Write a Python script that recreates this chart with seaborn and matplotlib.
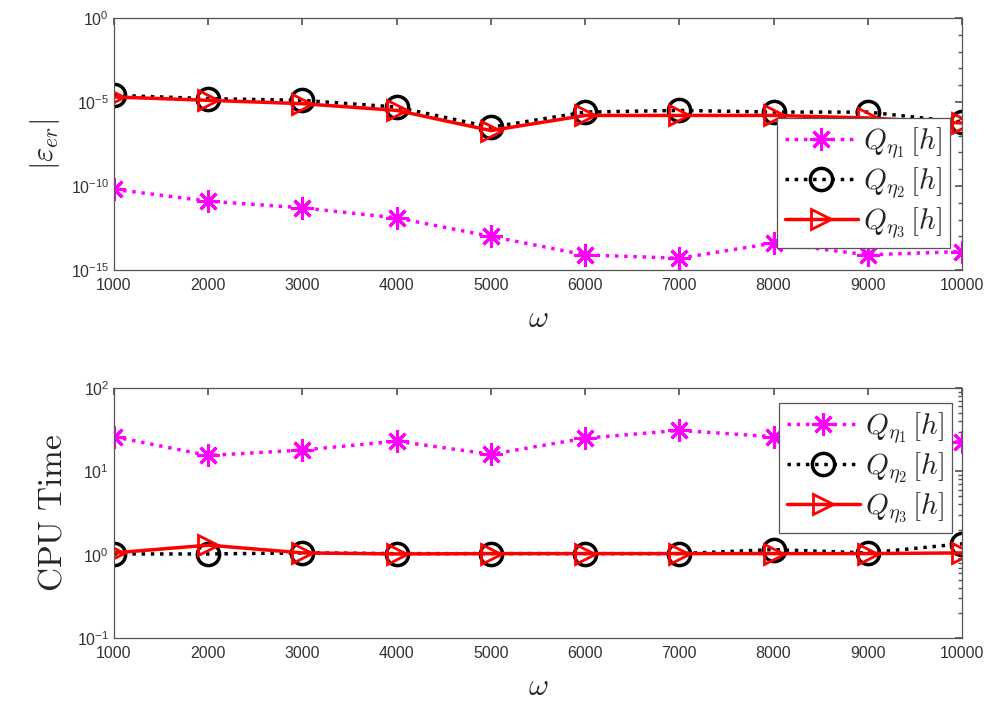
import numpy as np
import pandas as pd
import seaborn as sns
import matplotlib
matplotlib.use("Agg")
import matplotlib.pyplot as plt
from matplotlib.ticker import LogLocator, NullFormatter, FixedLocator

omega = [1000, 2000, 3000, 4000, 5000, 6000, 7000, 8000, 9000, 10000]
series_labels = [r"$Q_{\eta_1}\,[h]$", r"$Q_{\eta_2}\,[h]$", r"$Q_{\eta_3}\,[h]$"]

err_q1 = [10**-10.2, 10**-10.9, 10**-11.3, 10**-11.9, 10**-13.0, 10**-14.1, 10**-14.3, 10**-13.4, 10**-14.1, 10**-13.9]
err_q2 = [10**-4.6, 10**-4.8, 10**-4.9, 10**-5.3, 10**-6.5, 10**-5.6, 10**-5.5, 10**-5.6, 10**-5.6, 10**-6.2]
err_q3 = [10**-4.7, 10**-4.9, 10**-5.1, 10**-5.5, 10**-6.7, 10**-5.8, 10**-5.8, 10**-5.8, 10**-5.95, 10**-6.25]

cpu_q1 = [26, 15.5, 18, 23, 16, 25, 31, 26, 22, 22.5]
cpu_q2 = [1.02, 1.02, 1.05, 1.03, 1.03, 1.03, 1.03, 1.15, 1.05, 1.35]
cpu_q3 = [1.05, 1.3, 1.05, 1.02, 1.03, 1.03, 1.03, 1.03, 1.03, 1.05]

sns.set_theme(style="white")
plt.rcParams['font.family'] = ['Liberation Sans', 'DejaVu Sans']
plt.rcParams['mathtext.fontset'] = 'cm'

styles = [
    dict(color="#FF00FF", linestyle=":", marker=(8, 2, 0), markersize=16, markerfacecolor="#FF00FF",
         markeredgecolor="#FF00FF", markeredgewidth=2.2, linewidth=2.5),
    dict(color="black", linestyle=":", marker="o", markersize=16, markerfacecolor="none",
         markeredgecolor="black", markeredgewidth=2.5, linewidth=2.5),
    dict(color="#FF0000", linestyle="-", marker=">", markersize=15, markerfacecolor="none",
         markeredgecolor="#FF0000", markeredgewidth=2.0, linewidth=2.5),
]

fig = plt.figure(figsize=(9.92, 7.13), dpi=100)
W, H = 992, 713
ax1 = fig.add_axes([114 / W, 1 - 270 / H, (962 - 114) / W, (270 - 18) / H])
ax2 = fig.add_axes([114 / W, 1 - 638 / H, (962 - 114) / W, (638 - 388) / H])

def draw(ax, data_list):
    for vals, lab, st in zip(data_list, series_labels, styles):
        df = pd.DataFrame({"omega": omega, "val": vals})
        sns.lineplot(data=df, x="omega", y="val", ax=ax, label=lab, **st)
    ax.set_yscale("log")
    ax.set_xlim(1000, 10000)
    ax.set_xticks(omega)
    ax.set_xticklabels([str(o) for o in omega])
    ax.tick_params(axis="both", which="both", direction="in", top=True, right=True,
                   labelsize=11.5, colors="#555555", labelcolor="#333333")
    ax.tick_params(axis="both", which="major", length=5)
    ax.tick_params(axis="both", which="minor", length=3)
    ax.tick_params(axis="x", pad=6)
    for sp in ax.spines.values():
        sp.set_color("#555555")
        sp.set_linewidth(0.9)

def make_legend(ax, anchor):
    leg = ax.legend(loc="upper right", bbox_to_anchor=anchor, fontsize=21,
                    frameon=True, fancybox=False, edgecolor="#555555", framealpha=1.0,
                    handlelength=2.5, handletextpad=0.2, borderpad=0.25, labelspacing=0.15,
                    borderaxespad=0)
    leg.get_frame().set_linewidth(0.9)
    return leg

draw(ax1, [err_q1, err_q2, err_q3])
ax1.set_ylim(1e-15, 1e0)
ax1.yaxis.set_major_locator(FixedLocator([1e-15, 1e-10, 1e-5, 1e0]))
ax1.yaxis.set_minor_locator(FixedLocator([10.0**k for k in range(-15, 1)]))
ax1.yaxis.set_minor_formatter(NullFormatter())
ax1.set_xlabel(r"$\omega$", fontsize=22, labelpad=8)
ax1.set_ylabel(r"$|\varepsilon_{er}|$", fontsize=22, labelpad=6)
make_legend(ax1, ((950 - 114) / 848, (270 - 118) / 252))

draw(ax2, [cpu_q1, cpu_q2, cpu_q3])
ax2.set_ylim(1e-1, 1e2)
ax2.yaxis.set_major_locator(LogLocator(base=10, numticks=10))
ax2.yaxis.set_minor_locator(LogLocator(base=10, subs=np.arange(2, 10), numticks=10))
ax2.yaxis.set_minor_formatter(NullFormatter())
ax2.set_xlabel(r"$\omega$", fontsize=22, labelpad=8)
ax2.set_ylabel(r"$\mathrm{CPU\ Time}$", fontsize=24, labelpad=6)
make_legend(ax2, ((952 - 114) / 848, (638 - 403) / 250))

fig.savefig("out.png", dpi=100)
